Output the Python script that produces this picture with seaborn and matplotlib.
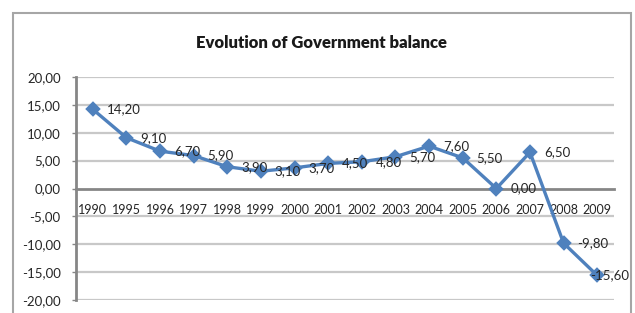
import matplotlib
matplotlib.use('Agg')
import matplotlib.pyplot as plt
import seaborn as sns
from matplotlib.patches import Rectangle

years = ['1990', '1995', '1996', '1997', '1998', '1999', '2000', '2001',
         '2002', '2003', '2004', '2005', '2006', '2007', '2008', '2009']
balance = [14.2, 9.1, 6.7, 5.9, 3.9, 3.1, 3.7, 4.5,
           4.8, 5.7, 7.6, 5.5, 0.0, 6.5, -9.8, -15.6]
y_ticks = [20, 15, 10, 5, 0, -5, -10, -15, -20]


def comma(v):
    return f'{v:.2f}'.replace('.', ',')


sns.set_style('white')
plt.rcParams['font.family'] = ['Lato', 'DejaVu Sans']

fig = plt.figure(figsize=(6.35, 3.13), dpi=100)
ax = fig.add_axes([0.1197, 0.0415, 0.8473, 0.7125])

# outer chart border (Excel style), bottom edge runs off the image
fig.patches.append(Rectangle((13 / 635, -0.1), 618 / 635, 1 - 13 / 313 + 0.1,
                             transform=fig.transFigure, fill=False,
                             edgecolor='#A6A6A6', linewidth=1.5))

for t in y_ticks:
    if t != 0:
        ax.axhline(t, color='#C8C8C8', linewidth=1.6, zorder=0)

sns.pointplot(x=years, y=balance, color='#4F81BD', markers='D',
              markersize=6, linewidth=2.4, ax=ax)

ax.set_xlim(-0.5, len(years) - 0.5)
ax.set_ylim(-20, 20)
ax.set_yticks(y_ticks)
ax.yaxis.set_major_formatter(plt.FuncFormatter(lambda v, _: comma(v)))
ax.set_xlabel('')
ax.set_ylabel('')

for side in ['top', 'right']:
    ax.spines[side].set_visible(False)
ax.spines['bottom'].set_position(('data', 0))
ax.spines['bottom'].set_color('#868686')
ax.spines['bottom'].set_linewidth(2)
ax.spines['left'].set_color('#868686')
ax.spines['left'].set_linewidth(2)
ax.spines['bottom'].set_zorder(1)

ax.tick_params(axis='x', length=0, pad=11, labelsize=9, labelcolor='#262626')
ax.tick_params(axis='y', length=3, width=1, color='#868686', pad=8,
               labelsize=9.5, labelcolor='#262626', left=True)

for i, v in enumerate(balance):
    dx = -5 if i == len(balance) - 1 else 10
    ax.annotate(comma(v), (i, v), xytext=(dx, 0), textcoords='offset points',
                va='center', ha='left', fontsize=9.5, color='#262626',
                zorder=5)

fig.text(321 / 635, 1 - 43 / 313, 'Evolution of Government balance',
         ha='center', va='center', fontsize=12, fontweight='heavy',
         color='#1a1a1a')

fig.savefig('out.png', dpi=100)
